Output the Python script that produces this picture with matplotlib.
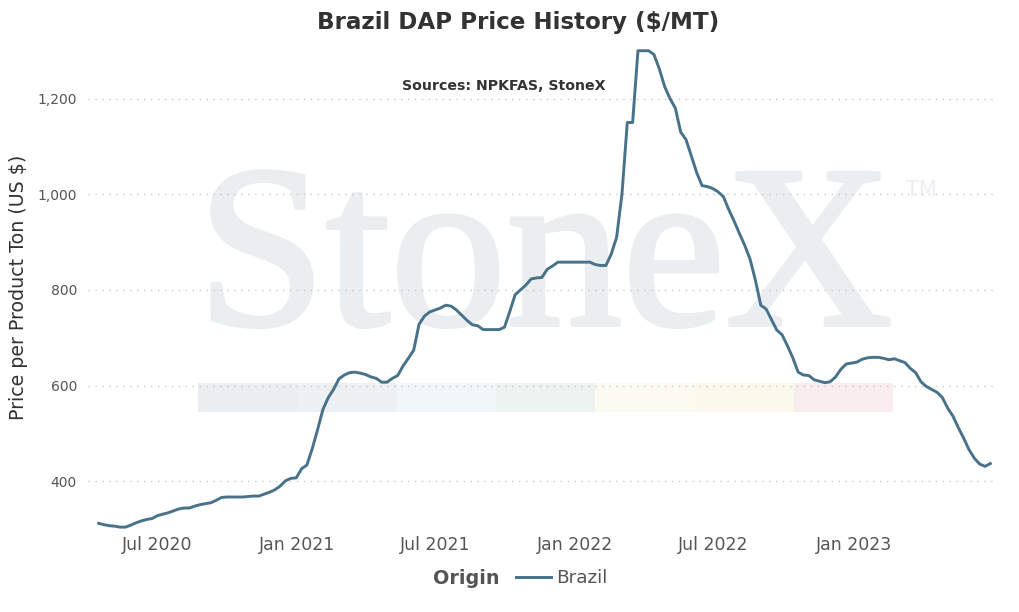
import numpy as np
import pandas as pd
import matplotlib
matplotlib.use('Agg')
import matplotlib.pyplot as plt
import matplotlib.dates as mdates
import matplotlib.patheffects as pe
from matplotlib.ticker import FuncFormatter, FixedLocator
from matplotlib.patches import Rectangle

# weekly Brazil DAP price, $/MT
start = '2020-04-16'
brazil = [312, 309, 307, 306, 304, 304, 308, 313, 317, 320,
          322, 328, 331, 334, 338, 342, 344, 344, 348, 351,
          353, 355, 360, 366, 367, 367, 367, 367, 368, 369,
          369, 373, 377, 382, 390, 401, 406, 407, 426, 434,
          468, 508, 550, 575, 592, 614, 622, 627, 628, 626,
          623, 618, 615, 607, 607, 615, 621, 641, 657, 674,
          728, 745, 754, 758, 762, 768, 766, 758, 747, 736,
          727, 725, 717, 717, 717, 717, 722, 755, 790, 800,
          810, 823, 825, 826, 843, 850, 858, 858, 858, 858,
          858, 858, 858, 853, 851, 851, 875, 910, 1000, 1150,
          1150, 1300, 1300, 1300, 1292, 1262, 1225, 1200, 1180, 1130,
          1114, 1080, 1045, 1018, 1016, 1012, 1005, 995, 968, 944,
          918, 893, 864, 820, 768, 760, 738, 716, 706, 683,
          658, 628, 622, 621, 612, 609, 606, 608, 618, 634,
          645, 647, 649, 655, 658, 659, 659, 657, 654, 656,
          652, 648, 636, 627, 608, 598, 592, 586, 575, 553,
          536, 512, 490, 466, 448, 436, 431, 437]
dates = pd.date_range(start, periods=len(brazil), freq='7D')

xticks = pd.to_datetime(['2020-07-01', '2021-01-01', '2021-07-01',
                         '2022-01-01', '2022-07-01', '2023-01-01'])
yticks = [400, 600, 800, 1000, 1200]
band_colors = ['#ebeef1', '#edf1f4', '#f1f6f9', '#edf3f1',
               '#fbfbf1', '#fbf8ec', '#f9edef']

line_color = '#48718a'
wm_color = '#ebeef1'

fig = plt.figure(figsize=(10.19, 6.12), dpi=100)
ax = fig.add_axes([88/1019, 1-530/612, 910/1019, 485/612])

# watermark
ax.text(0.502, 0.423, 'StoneX', transform=ax.transAxes, ha='center', va='baseline',
        fontsize=167, family='Liberation Serif', color=wm_color, zorder=0.1,
        path_effects=[pe.withStroke(linewidth=3, foreground=wm_color)])
ax.text(0.916, 0.70, 'TM', transform=ax.transAxes, ha='center', va='center',
        fontsize=15, color=wm_color, zorder=0.1)
w = 0.7637 / len(band_colors)
for k, c in enumerate(band_colors):
    ax.add_patch(Rectangle((0.121 + k*w, 0.243), w, 0.06, transform=ax.transAxes,
                           facecolor=c, edgecolor='none', zorder=0.1))

ax.plot(dates, brazil, color=line_color, lw=2.1, label='Brazil', zorder=3)

ax.set_xlim(pd.Timestamp('2020-04-02'), pd.Timestamp('2023-07-09'))
ax.set_ylim(298, 1312)
ax.xaxis.set_major_locator(FixedLocator(mdates.date2num(xticks)))
ax.xaxis.set_major_formatter(mdates.DateFormatter('%b %Y'))
ax.yaxis.set_major_locator(FixedLocator(yticks))
ax.yaxis.set_major_formatter(FuncFormatter(lambda v, p: f'{int(v):,}'))

ax.set_axisbelow(True)
ax.grid(axis='y', color='#c8c8c8', linestyle=(0, (1, 4)), lw=1)
for s in ax.spines.values():
    s.set_visible(False)
ax.tick_params(length=0, labelcolor='#555555')
ax.tick_params(axis='x', pad=4, labelsize=12.5)
ax.tick_params(axis='y', pad=8, labelsize=10)

ax.set_ylabel('Price per Product Ton (US $)', fontsize=13.7, color='#333333', labelpad=7)

fig.text(0.508, 0.963, 'Brazil DAP Price History ($/MT)', ha='center', va='center',
         fontsize=16.6, fontweight='bold', color='#333333')
ax.text(0.457, 0.916, 'Sources: NPKFAS, StoneX', transform=ax.transAxes, ha='center',
        va='center', fontsize=10.2, fontweight='bold', color='#333333')

fig.text(499/1019, 1-578/612, 'Origin', ha='right', va='center', fontsize=13.8,
         fontweight='bold', color='#555555')
ax.legend(loc='center left', bbox_to_anchor=(499/1019, 1-578/612),
          bbox_transform=fig.transFigure, frameon=False, fontsize=13.3,
          handlelength=1.9, handletextpad=0.3, labelcolor='#555555')

fig.savefig('out.png', dpi=100)
